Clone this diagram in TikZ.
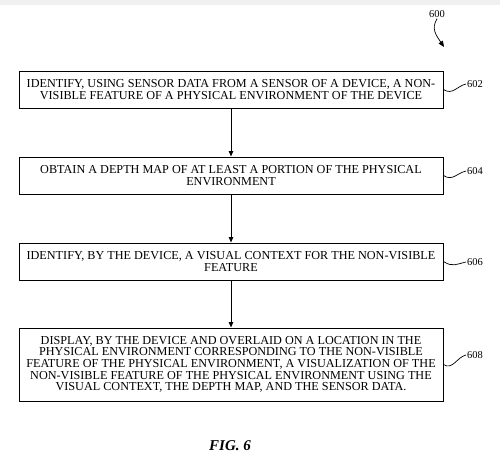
\documentclass[tikz,border=0pt]{standalone}
\usepackage{fontspec}
\setmainfont{Liberation Serif}
\usetikzlibrary{arrows.meta}

\begin{document}
\begin{tikzpicture}[x=1pt,y=-1pt,
  stepbox/.style={rectangle,draw,line width=1pt,minimum width=424pt,inner sep=0pt,
    align=center,font=\fontsize{12.2}{11.65}\selectfont},
  reflabel/.style={anchor=west,inner sep=1pt,font=\fontsize{10.5}{10.5}\selectfont},
  flow/.style={line width=1pt,-{Triangle[width=4.5pt,length=5.5pt]}},
  wiggle/.style={line width=0.7pt}]

 \fill[black!6] (0,0) rectangle (500,4.5);
 \useasboundingbox (0,0) rectangle (500,469);

 \node at (231,89.5) [stepbox,minimum height=37pt] (b602) {IDENTIFY, USING SENSOR DATA FROM A SENSOR OF A DEVICE, A NON-\\VISIBLE FEATURE OF A PHYSICAL ENVIRONMENT OF THE DEVICE};
 \node at (231,175.5) [stepbox,minimum height=37pt] (b604) {OBTAIN A DEPTH MAP OF AT LEAST A PORTION OF THE PHYSICAL\\ENVIRONMENT};
 \node at (231,261.5) [stepbox,minimum height=37pt] (b606) {IDENTIFY, BY THE DEVICE, A VISUAL CONTEXT FOR THE NON-VISIBLE\\FEATURE};
 \node at (231,364.5) [stepbox,minimum height=73pt] (b608) {DISPLAY, BY THE DEVICE AND OVERLAID ON A LOCATION IN THE\\PHYSICAL ENVIRONMENT CORRESPONDING TO THE NON-VISIBLE\\FEATURE OF THE PHYSICAL ENVIRONMENT, A VISUALIZATION OF THE\\NON-VISIBLE FEATURE OF THE PHYSICAL ENVIRONMENT USING THE\\VISUAL CONTEXT, THE DEPTH MAP, AND THE SENSOR DATA.};

 \draw[flow] (b602)--(b604);
 \draw[flow] (b604)--(b606);
 \draw[flow] (b606)--(b608);

 \node at (466,84) [reflabel] (l602) {602};
 \node at (466,171) [reflabel] (l604) {604};
 \node at (466,262) [reflabel] (l606) {606};
 \node at (466,355) [reflabel] (l608) {608};
 \draw[wiggle] (b602.east) .. controls +(9,6) and +(-9,2) .. (l602.west);
 \draw[wiggle] (b604.east) .. controls +(9,6) and +(-9,2) .. (l604.west);
 \draw[wiggle] (b606.east) .. controls +(9,6) and +(-9,2) .. (l606.west);
 \draw[wiggle] (b608.east) .. controls +(9,6) and +(-9,2) .. (l608.west);

 \node at (437,14) [inner sep=1pt,font=\fontsize{10.5}{10.5}\selectfont] (l600) {600};
 \coordinate (t600) at (444,47);
 \draw[wiggle,-{Triangle[width=5pt,length=6pt]}] (l600.south) .. controls +(-6,10) and +(-8,-12) .. (t600);

 \node at (230,446) [font=\fontsize{15}{15}\selectfont\bfseries\itshape] (fig) {FIG. 6};
\end{tikzpicture}
\end{document}
